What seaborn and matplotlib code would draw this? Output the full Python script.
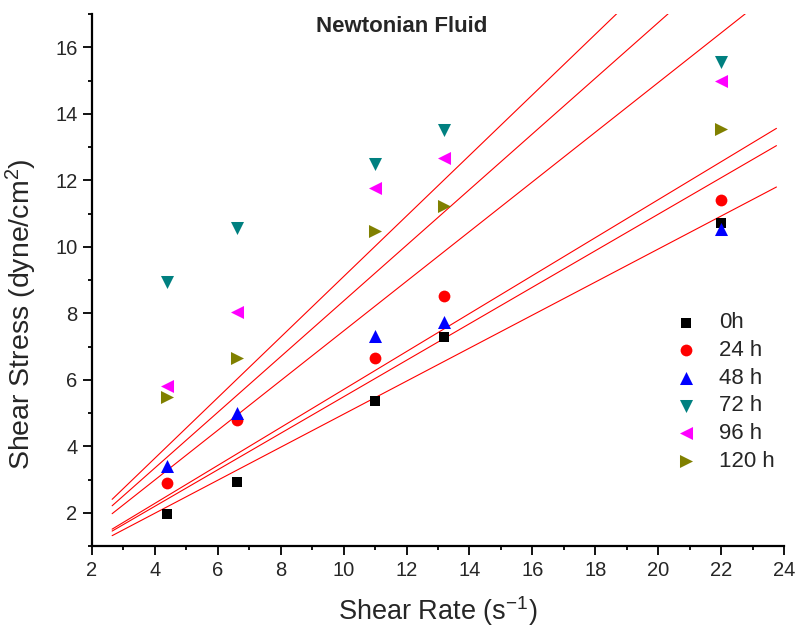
import numpy as np
import pandas as pd
import matplotlib
matplotlib.use("Agg")
import matplotlib.pyplot as plt
from matplotlib.ticker import MultipleLocator, AutoMinorLocator
import seaborn as sns

# ---- data ----
shear_rate = [4.4, 6.6, 11.0, 13.2, 22.0]
series_labels = ["0h", "24 h", "48 h", "72 h", "96 h", "120 h"]
stress_0h = [1.95, 2.91, 5.35, 7.28, 10.70]
stress_24h = [2.88, 4.78, 6.65, 8.52, 11.40]
stress_48h = [3.40, 5.00, 7.32, 7.75, 10.52]
stress_72h = [8.93, 10.55, 12.50, 13.50, 15.55]
stress_96h = [5.80, 8.05, 11.77, 12.67, 14.98]
stress_120h = [5.48, 6.64, 10.48, 11.22, 13.53]
all_stress = [stress_0h, stress_24h, stress_48h, stress_72h, stress_96h, stress_120h]

colors = ["#000000", "#FF0000", "#0000FF", "#008080", "#FF00FF", "#808000"]
markers = ["s", "o", "^", "v", "<", ">"]
msizes = [55, 72, 88, 88, 88, 88]

sns.set_theme(style="ticks")
plt.rcParams["font.family"] = ["Liberation Sans", "DejaVu Sans"]
plt.rcParams["mathtext.fontset"] = "custom"
plt.rcParams["mathtext.rm"] = "Liberation Sans"
plt.rcParams["mathtext.it"] = "Liberation Sans:italic"

fig = plt.figure(figsize=(7.97, 6.32), dpi=100)
ax = fig.add_axes([92 / 797, 1 - 546 / 632, (784 - 92) / 797, (546 - 14) / 632])

rows = []
for lab, ys in zip(series_labels, all_stress):
    for x, y in zip(shear_rate, ys):
        rows.append({"rate": x, "stress": y, "series": lab})
df = pd.DataFrame(rows)

# fit lines through the origin, extended 10% beyond the data range
xr = np.array(shear_rate)
margin = 0.1 * (xr.max() - xr.min())
xfit = np.array([xr.min() - margin, xr.max() + margin])
for ys in all_stress:
    y = np.array(ys)
    k = np.sum(xr * y) / np.sum(xr * xr)
    sns.lineplot(x=xfit, y=k * xfit, color="#FF0000", linewidth=0.8, ax=ax,
                 legend=False, label="_nolegend_")

for lab, col, mk, sz in zip(series_labels, colors, markers, msizes):
    sub = df[df["series"] == lab]
    sns.scatterplot(data=sub, x="rate", y="stress", marker=mk, color=col, s=sz,
                    linewidth=0, label=lab, ax=ax, zorder=3)

ax.set_xlim(2, 24)
ax.set_ylim(1, 17)
ax.xaxis.set_major_locator(MultipleLocator(2))
ax.yaxis.set_major_locator(MultipleLocator(2))
ax.xaxis.set_minor_locator(AutoMinorLocator(2))
ax.yaxis.set_minor_locator(AutoMinorLocator(2))
for s in ["top", "right"]:
    ax.spines[s].set_visible(False)
for s in ["left", "bottom"]:
    ax.spines[s].set_linewidth(1.6)
    ax.spines[s].set_color("black")
ax.tick_params(which="major", direction="out", length=6.5, width=1.3,
               labelsize=14.5, pad=4, color="black")
ax.tick_params(which="minor", direction="out", length=3.2, width=1.3, color="black")

ax.set_xlabel("Shear Rate (s$^{\\mathrm{-1}}$)", fontsize=19.5)
ax.set_ylabel(r"Shear Stress (dyne/cm$^{2}$)", fontsize=20.5)
ax.xaxis.label.set_va("center")
ax.yaxis.label.set_va("center")
ax.xaxis.set_label_coords(0.5, -0.122)
ax.yaxis.set_label_coords(-0.102, 0.436)

ax.text(11.84, 16.63, "Newtonian Fluid", fontsize=16, fontweight="bold",
        ha="center", va="center")

handles, labels = ax.get_legend_handles_labels()
ax.legend(handles, labels, loc="center left", bbox_to_anchor=(666 / 797, 1 - 392 / 632),
          bbox_transform=fig.transFigure, frameon=False, fontsize=16,
          handlelength=1.0, handletextpad=1.0, labelspacing=0.3, borderaxespad=0)

fig.savefig("out.png", dpi=100)
